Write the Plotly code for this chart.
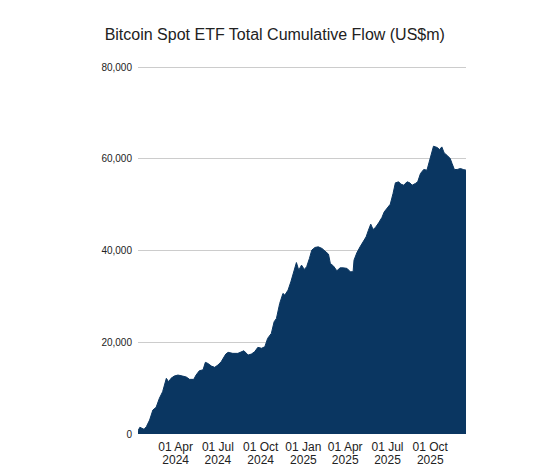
import plotly.graph_objects as go

dates = [
    "2024-01-11", "2024-01-15", "2024-01-24", "2024-01-29", "2024-02-05", "2024-02-12",
    "2024-02-19", "2024-02-26", "2024-03-04", "2024-03-12", "2024-03-17", "2024-03-22",
    "2024-03-29", "2024-04-06", "2024-04-16", "2024-04-24", "2024-05-01", "2024-05-10",
    "2024-05-15", "2024-05-22", "2024-05-30", "2024-06-04", "2024-06-09", "2024-06-17",
    "2024-06-24", "2024-07-01", "2024-07-08", "2024-07-15", "2024-07-18", "2024-07-23",
    "2024-08-02", "2024-08-13", "2024-08-20", "2024-08-26", "2024-09-04", "2024-09-11",
    "2024-09-18", "2024-09-25", "2024-10-03", "2024-10-10", "2024-10-16", "2024-10-24",
    "2024-10-30", "2024-11-04", "2024-11-11", "2024-11-18", "2024-11-22", "2024-11-29",
    "2024-12-05", "2024-12-10", "2024-12-17", "2024-12-22", "2024-12-28", "2025-01-03",
    "2025-01-08", "2025-01-14", "2025-01-19", "2025-01-26", "2025-02-02", "2025-02-10",
    "2025-02-17", "2025-02-24", "2025-02-28", "2025-03-07", "2025-03-14", "2025-03-21",
    "2025-03-28", "2025-04-05", "2025-04-12", "2025-04-18", "2025-04-20", "2025-04-26",
    "2025-05-03", "2025-05-10", "2025-05-16", "2025-05-21", "2025-05-26", "2025-05-31",
    "2025-06-05", "2025-06-12", "2025-06-19", "2025-06-24", "2025-06-30", "2025-07-07",
    "2025-07-13", "2025-07-18", "2025-07-25", "2025-07-30", "2025-08-05", "2025-08-12",
    "2025-08-18", "2025-08-23", "2025-08-30", "2025-09-04", "2025-09-10", "2025-09-17",
    "2025-09-24", "2025-09-30", "2025-10-05", "2025-10-08", "2025-10-16", "2025-10-21",
    "2025-10-26", "2025-10-31", "2025-11-06", "2025-11-13", "2025-11-17", "2025-11-22",
    "2025-11-28", "2025-12-05", "2025-12-11", "2025-12-17",
]

cumulative_flow = [
    700, 1460, 1020, 1600, 3050, 5230,
    5820, 7780, 9220, 12140, 11400, 12140,
    12640, 12860, 12640, 12420, 11920, 11920,
    12860, 13800, 14000, 15630, 15410, 14820,
    14540, 15040, 15760, 16800, 17440, 17810,
    17590, 17590, 17940, 18160, 17220, 17440,
    17940, 18900, 18700, 19030, 20860, 21950,
    24480, 25220, 28490, 30670, 30300, 31390,
    33200, 35030, 37400, 35750, 36840, 35900,
    36500, 38300, 40110, 40700, 40830, 40480,
    39960, 39240, 37210, 36620, 35600, 36250,
    36250, 36120, 35380, 35400, 37930, 39520,
    40830, 41920, 43010, 44470, 45780, 44620,
    45050, 46060, 47230, 48460, 49190, 50130,
    52480, 54790, 55010, 54500, 54280, 55010,
    54800, 54280, 54650, 55010, 56830, 57700,
    57560, 59730, 61760, 62780, 62500, 62060,
    62630, 61320, 60820, 60100, 59010, 57700,
    57700, 57920, 57700, 57560,
]

title_text = "Bitcoin Spot ETF Total Cumulative Flow (US$m)"
y_ticks = [0, 20000, 40000, 60000, 80000]
y_tick_labels = ["0", "20,000", "40,000", "60,000", "80,000"]

navy = "#0a3661"
text_color = "#222222"

fig = go.Figure()
fig.add_trace(go.Scatter(
    x=dates,
    y=cumulative_flow,
    mode="lines",
    fill="tozeroy",
    line=dict(color=navy, width=1),
    fillcolor=navy,
    showlegend=False,
    hoverinfo="x+y",
))
# invisible companion trace so the second (year) axis row is drawn
fig.add_trace(go.Scatter(
    x=dates,
    y=cumulative_flow,
    xaxis="x2",
    mode="lines",
    line=dict(width=0, color="rgba(0,0,0,0)"),
    showlegend=False,
    hoverinfo="skip",
))

fig.update_layout(
    width=540,
    height=471,
    margin=dict(l=130, r=82, t=57, b=37),
    paper_bgcolor="white",
    plot_bgcolor="white",
    font=dict(family="Liberation Sans, Arial, sans-serif", color=text_color),
    title=dict(
        text=title_text,
        x=0.494, xref="container", xanchor="center",
        y=0.944, yref="container", yanchor="middle",
        font=dict(size=16, color=text_color),
    ),
    xaxis=dict(
        range=["2024-01-11", "2025-12-17"],
        tick0="2024-01-01",
        dtick="M3",
        tickformat="%d %b",
        showgrid=False,
        showline=False,
        zeroline=False,
        ticks="",
        ticklabelstandoff=4,
        tickfont=dict(size=12, color=text_color),
    ),
    xaxis2=dict(
        overlaying="x",
        matches="x",
        side="bottom",
        anchor="y",
        tick0="2024-01-01",
        dtick="M3",
        tickformat="%Y",
        showgrid=False,
        showline=False,
        zeroline=False,
        ticks="",
        ticklabelstandoff=17,
        tickfont=dict(size=12, color=text_color),
    ),
    yaxis=dict(
        range=[0, 80500],
        tickvals=y_ticks,
        ticktext=y_tick_labels,
        showgrid=True,
        gridcolor="#cccccc",
        gridwidth=1,
        zeroline=False,
        showline=False,
        ticks="",
        ticklabelstandoff=5,
        tickfont=dict(size=10, color=text_color),
    ),
)

fig.write_html("out.html")
